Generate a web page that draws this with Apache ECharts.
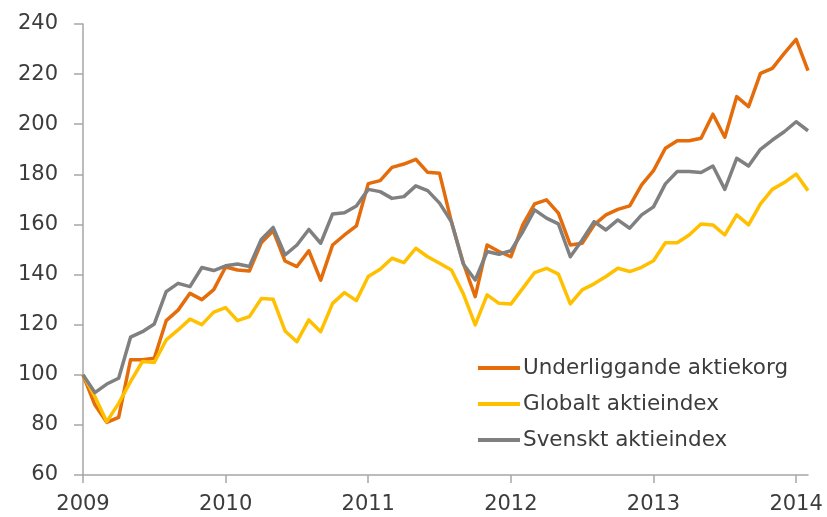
<!DOCTYPE html>
<html>
<head>
<meta charset="utf-8">
<script src="https://cdn.jsdelivr.net/npm/echarts@6/dist/echarts.min.js"></script>
<style>
html,body{margin:0;padding:0;background:#fff;}
#chart{width:827px;height:517px;}
</style>
</head>
<body>
<div id="chart"></div>
<script>
var years = ['2009','2010','2011','2012','2013','2014'];
var startYear = 2009;
var monthCount = 62;

var underliggande = [100, 88, 81, 83, 106, 106, 106.6, 121.6, 125.8, 132.5, 130, 134,
  143, 141.8, 141.4, 152.7, 157.5, 145.4, 143.2, 149.5, 137.8, 151.8, 155.8, 159.4,
  176.3, 177.5, 182.8, 184.1, 186, 180.8, 180.4, 161, 144.5, 131.2, 151.8, 149.2,
  147.1, 159.8, 168.2, 169.8, 164.5, 151.8, 152.5, 159.8, 163.8, 166, 167.4, 175.8,
  181.5, 190.4, 193.4, 193.4, 194.4, 204, 194.8, 211, 207, 220.3, 222.3, 228.3,
  233.9, 221.4];

var globalt = [100, 91.3, 81.3, 88.6, 97.3, 105.3, 104.9, 113.9, 117.9, 122.2, 120, 125,
  126.8, 121.6, 123.2, 130.4, 130.1, 117.5, 113.2, 121.9, 117.2, 128.5, 132.8, 129.6,
  139.2, 142.1, 146.5, 144.8, 150.5, 147.1, 144.5, 141.8, 132.3, 119.9, 131.9, 128.5,
  128.2, 134.5, 140.8, 142.5, 140.2, 128.3, 133.9, 136.3, 139.2, 142.5, 141.2, 142.9,
  145.5, 152.7, 152.7, 155.8, 160.2, 159.8, 155.8, 163.8, 159.8, 168.2, 174, 176.7,
  180.1, 173.5];

var svenskt = [100, 92.9, 96.3, 98.6, 115, 117.2, 120.3, 133.2, 136.5, 135.2, 142.8, 141.6,
  143.5, 144.2, 143.2, 154, 158.8, 147.8, 151.8, 158, 152.5, 164.2, 164.7, 167.4,
  174, 173.1, 170.4, 171.1, 175.4, 173.5, 168.5, 161.1, 144.2, 137.8, 149.2, 148.1,
  149.5, 157.1, 165.8, 162.5, 160.2, 147.1, 153.8, 161.1, 157.8, 161.8, 158.5, 163.8,
  167, 176.2, 181.1, 181.1, 180.7, 183.3, 174, 186.4, 183.3, 190, 193.7, 197,
  201, 197.4];

var seriesNames = ['Underliggande aktiekorg', 'Globalt aktieindex', 'Svenskt aktieindex'];
var seriesColors = ['#E46C0A', '#FFC000', '#808080'];

var months = [];
for (var i = 0; i < monthCount; i++) {
  months.push((startYear + Math.floor(i / 12)) + '-' + ((i % 12) + 1));
}

var FONT = 'DejaVu Sans';
var TEXT_COLOR = '#3c3c3c';
var chart = echarts.init(document.getElementById('chart'), null, {renderer: 'canvas'});
var showYear = function (index) { return index % 12 === 0; };

function mkSeries(name, data, color) {
  return {
    name: name,
    type: 'line',
    data: data,
    symbol: 'none',
    showSymbol: false,
    smooth: false,
    animation: false,
    lineStyle: {color: color, width: 3.5, join: 'round'},
    itemStyle: {color: color},
    z: 2
  };
}

chart.setOption({
  animation: false,
  backgroundColor: '#ffffff',
  color: seriesColors,
  grid: {left: 83, right: 19, top: 24, bottom: 42, containLabel: false},
  legend: {
    orient: 'vertical',
    left: 473,
    top: 352,
    icon: 'rect',
    itemWidth: 42,
    itemHeight: 4,
    itemGap: 14,
    textStyle: {fontFamily: FONT, fontSize: 21.5, lineHeight: 21, color: TEXT_COLOR, padding: [0, 0, 0, -2]},
    data: seriesNames
  },
  xAxis: {
    type: 'category',
    data: months,
    boundaryGap: false,
    axisLine: {lineStyle: {color: '#a6a6a6', width: 1.5}},
    axisTick: {show: true, interval: function (idx) { return showYear(idx); }, length: 8, lineStyle: {color: '#a6a6a6', width: 1.5}},
    axisLabel: {
      interval: function (idx) { return showYear(idx); },
      margin: 19,
      fontFamily: FONT,
      fontSize: 21,
      color: TEXT_COLOR,
      formatter: function (val, idx) { return years[Math.floor(idx / 12)]; }
    },
    splitLine: {show: false}
  },
  yAxis: {
    type: 'value',
    min: 60,
    max: 240,
    interval: 20,
    axisLine: {show: true, lineStyle: {color: '#a6a6a6', width: 1.5}},
    axisTick: {show: true, length: 9, lineStyle: {color: '#a6a6a6', width: 1.5}},
    axisLabel: {margin: 25, fontFamily: FONT, fontSize: 21, color: TEXT_COLOR},
    splitLine: {show: false}
  },
  series: [
    mkSeries(seriesNames[0], underliggande, seriesColors[0]),
    mkSeries(seriesNames[1], globalt, seriesColors[1]),
    mkSeries(seriesNames[2], svenskt, seriesColors[2])
  ]
});
</script>
</body>
</html>
